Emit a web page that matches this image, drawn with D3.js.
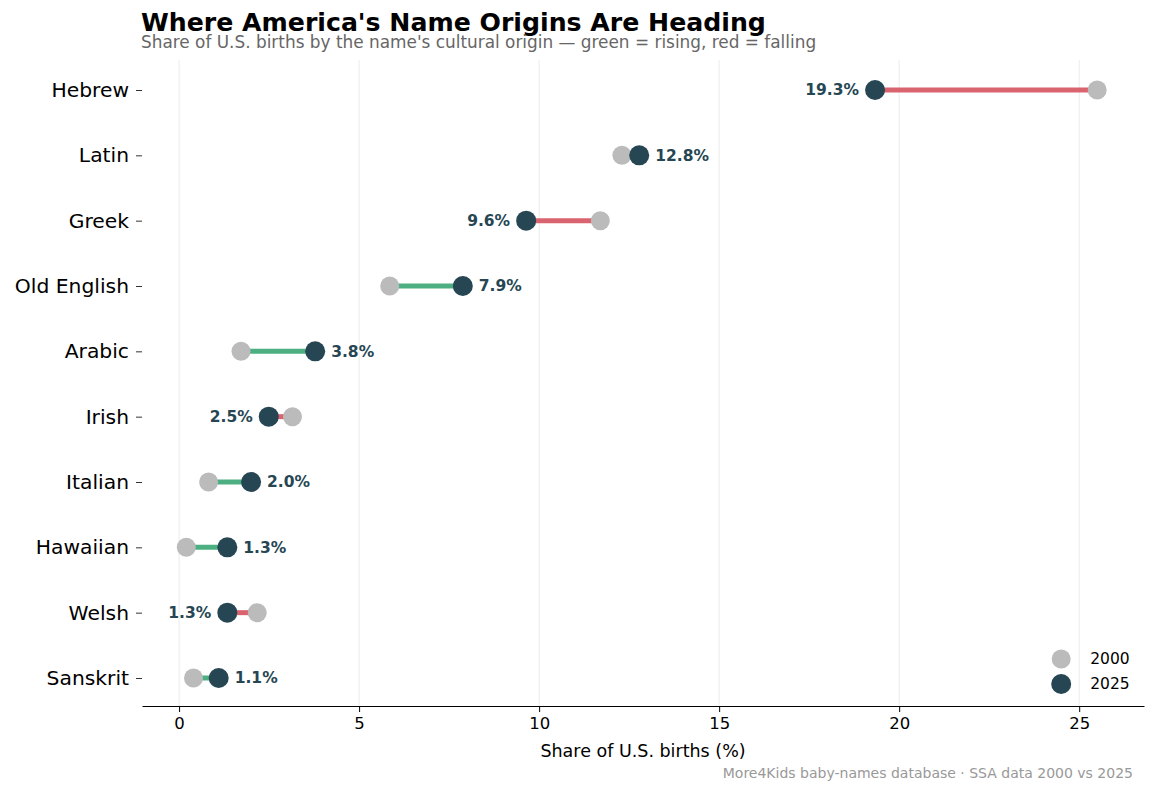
<!DOCTYPE html>
<html lang="en">
<head>
  <meta charset="UTF-8">
  <title>Where America's Name Origins Are Heading</title>
  <style>
    body { margin: 0; background: #fff; }
    svg, svg text { font-family: "DejaVu Sans", sans-serif; }
  </style>
</head>
<body>
  <div id="chart"></div>
  <script src="https://d3js.org/d3.v7.min.js"></script>
  <script>
    // data
    const origins = ['Hebrew', 'Latin', 'Greek', 'Old English', 'Arabic', 'Irish', 'Italian', 'Hawaiian', 'Welsh', 'Sanskrit'];
    const share2000 = [25.5, 12.3, 11.7, 5.85, 1.72, 3.15, 0.82, 0.2, 2.17, 0.4];
    const share2025 = [19.33, 12.78, 9.64, 7.88, 3.78, 2.49, 2.0, 1.34, 1.34, 1.1];
    const xTicks = [0, 5, 10, 15, 20, 25];

    const W = 1156, H = 795;
    const margin = { top: 60, right: 12, bottom: 89, left: 142 };
    const width = W - margin.left - margin.right;
    const height = H - margin.top - margin.bottom;

    const cDark = '#264653', cGray = '#bbbbbb', cUp = '#4caf82', cDown = '#d9636f';

    const svg = d3.select('#chart').append('svg')
      .attr('width', W).attr('height', H);

    const g = svg.append('g').attr('transform', `translate(${margin.left},${margin.top})`);

    const x = d3.scaleLinear().domain([-1.03, 26.8]).range([0, width]);
    const y = d3.scalePoint().domain(origins).range([1, height + 1]).padding(0.444);

    // grid
    g.append('g').selectAll('line').data(xTicks).join('line')
      .attr('x1', d => x(d)).attr('x2', d => x(d))
      .attr('y1', 0).attr('y2', height)
      .attr('stroke', '#ebebeb').attr('stroke-width', 1);

    // x axis
    const xAxis = g.append('g').attr('transform', `translate(0,${height})`)
      .call(d3.axisBottom(x).tickValues(xTicks).tickSizeInner(6).tickSizeOuter(0).tickPadding(5).tickFormat(d3.format('d')));
    xAxis.attr('font-family', null);
    xAxis.select('.domain').attr('stroke', '#000').attr('stroke-width', 1.2);
    xAxis.selectAll('.tick line').attr('stroke', '#000');
    xAxis.selectAll('text').attr('font-size', 16.5).attr('fill', '#000');

    // y axis
    const yAxis = g.append('g')
      .call(d3.axisLeft(y).tickSize(6).tickPadding(7));
    yAxis.attr('font-family', null);
    yAxis.select('.domain').remove();
    yAxis.selectAll('.tick line').attr('stroke', '#333');
    yAxis.selectAll('text').attr('font-size', 20.3).attr('fill', '#000');

    const rows = origins.map((o, i) => ({ o, a: share2000[i], b: share2025[i] }));

    // connectors
    g.append('g').selectAll('line').data(rows).join('line')
      .attr('x1', d => x(d.a)).attr('x2', d => x(d.b))
      .attr('y1', d => y(d.o)).attr('y2', d => y(d.o))
      .attr('stroke', d => d.b >= d.a ? cUp : cDown)
      .attr('stroke-width', 5);

    g.append('g').selectAll('circle').data(rows).join('circle')
      .attr('cx', d => x(d.a)).attr('cy', d => y(d.o)).attr('r', 9.5)
      .attr('fill', cGray);

    g.append('g').selectAll('circle').data(rows).join('circle')
      .attr('cx', d => x(d.b)).attr('cy', d => y(d.o)).attr('r', 10)
      .attr('fill', cDark);

    // value labels
    g.append('g').selectAll('text').data(rows).join('text')
      .attr('x', d => x(d.b) + (d.b >= d.a ? 16 : -16))
      .attr('y', d => y(d.o))
      .attr('dy', '0.35em')
      .attr('text-anchor', d => d.b >= d.a ? 'start' : 'end')
      .attr('font-size', 15.5).attr('font-weight', 'bold').attr('fill', cDark)
      .text(d => d3.format('.1f')(d.b) + '%');

    // legend
    const legend = g.append('g').attr('transform', `translate(${x(24.5)},${height - 47})`);
    [['2000', cGray, 9.5], ['2025', cDark, 10]].forEach(([lab, col, r], i) => {
      legend.append('circle').attr('cx', 0).attr('cy', i * 25).attr('r', r).attr('fill', col);
      legend.append('text').attr('x', 29).attr('y', i * 25).attr('dy', '0.35em')
        .attr('font-size', 15.5).attr('fill', '#000').text(lab);
    });

    // titles
    svg.append('text').attr('x', 141).attr('y', 31)
      .attr('font-size', 25.2).attr('font-weight', 'bold').attr('fill', '#000')
      .text("Where America's Name Origins Are Heading");
    svg.append('text').attr('x', 141).attr('y', 48)
      .attr('font-size', 16.9).attr('fill', '#666')
      .text("Share of U.S. births by the name's cultural origin — green = rising, red = falling");

    svg.append('text').attr('x', margin.left + width / 2).attr('y', 757)
      .attr('text-anchor', 'middle').attr('font-size', 17.5).attr('fill', '#000')
      .text('Share of U.S. births (%)');

    svg.append('text').attr('x', 1133).attr('y', 778)
      .attr('text-anchor', 'end').attr('font-size', 14).attr('fill', '#999')
      .text('More4Kids baby-names database · SSA data 2000 vs 2025');
  </script>
</body>
</html>
